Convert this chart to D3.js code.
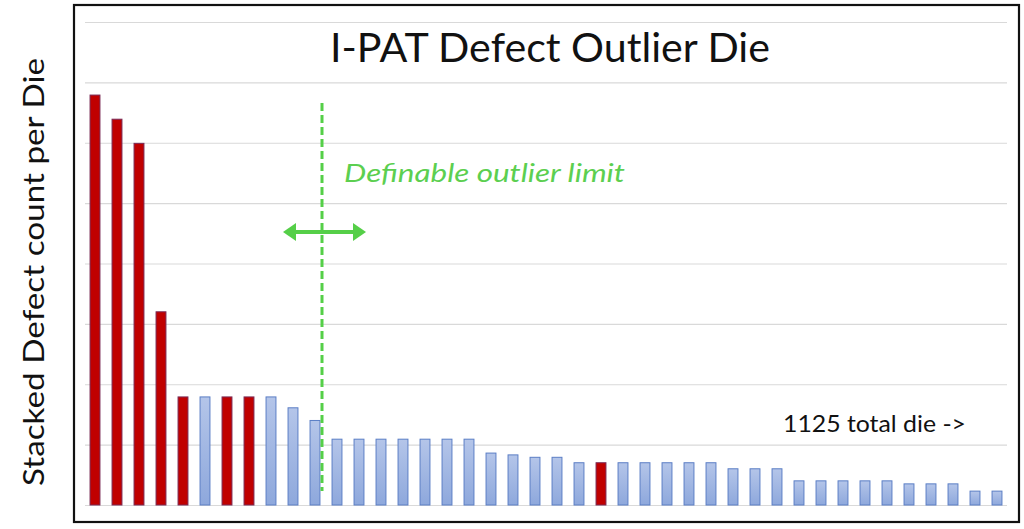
<!DOCTYPE html>
<html>
<head>
<meta charset="utf-8">
<script src="https://cdn.jsdelivr.net/npm/d3@7"></script>
<style>
  html, body { margin: 0; padding: 0; background: #fff; }
  svg { display: block; }
</style>
</head>
<body>
<svg id="chart" width="1024" height="529"></svg>
<script>
// ---- data ----
const dieIds = d3.range(1, 43).map(i => "D" + i);
const defectCounts = [
  67.9, 63.9, 59.9, 32.0, 17.9, 17.9, 17.9, 17.9, 17.9, 16.1,
  14.0, 10.9, 10.9, 10.9, 10.9, 10.9, 10.9, 10.9, 8.6, 8.3,
  7.9, 7.9, 7.0, 7.0, 7.0, 7.0, 7.0, 7.0, 7.0, 6.0,
  6.0, 6.0, 4.0, 4.0, 4.0, 4.0, 4.0, 3.5, 3.5, 3.5,
  2.3, 2.3
];
const outlierFlags = [
  1, 1, 1, 1, 1, 0, 1, 1, 0, 0,
  0, 0, 0, 0, 0, 0, 0, 0, 0, 0,
  0, 0, 0, 1, 0, 0, 0, 0, 0, 0,
  0, 0, 0, 0, 0, 0, 0, 0, 0, 0,
  0, 0
];
const yTicks = [0, 10, 20, 30, 40, 50, 60, 70, 80];
const titleText = "I-PAT Defect Outlier Die";
const yTitleText = "Stacked Defect count per Die";
const limitText = "Definable outlier limit";
const totalText = "1125 total die ->";

const rows = dieIds.map((id, i) => ({ id, value: defectCounts[i], outlier: outlierFlags[i] === 1 }));

// ---- layout ----
const svg = d3.select("#chart");
const x = d3.scaleBand().domain(dieIds).range([84, 1008]).paddingInner(0.55).paddingOuter(0.275);
const y = d3.scaleLinear().domain([0, 80]).range([505, 22]);

const defs = svg.append("defs");
const grad = defs.append("linearGradient").attr("id", "blueGrad")
  .attr("x1", 0).attr("y1", 0).attr("x2", 0).attr("y2", 1);
grad.append("stop").attr("offset", "0%").attr("stop-color", "#b4c5e9");
grad.append("stop").attr("offset", "100%").attr("stop-color", "#8ea8dc");

// frame
svg.append("rect").attr("x", 74).attr("y", 5).attr("width", 945).attr("height", 517)
  .attr("fill", "#fff").attr("stroke", "#111").attr("stroke-width", 2.2);

// gridlines
const yAxis = d3.axisLeft(y).tickValues(yTicks).tickSize(-(1007 - 85)).tickFormat("");
const gAxis = svg.append("g").attr("transform", "translate(85,0)").call(yAxis);
gAxis.select(".domain").remove();
gAxis.selectAll(".tick line").attr("stroke", "#d9d9d9").attr("stroke-width", 1.2);

// title
svg.append("text").attr("x", 550).attr("y", 62).attr("text-anchor", "middle")
  .attr("font-family", "Lato, 'Open Sans', sans-serif").attr("font-size", 40)
  .attr("fill", "#111").attr("textLength", 440).attr("lengthAdjust", "spacingAndGlyphs")
  .text(titleText);

// y title
svg.append("text").attr("transform", "translate(44,272) rotate(-90)").attr("text-anchor", "middle")
  .attr("font-family", "Lato, 'Open Sans', sans-serif").attr("font-size", 29)
  .attr("fill", "#111").attr("textLength", 428).attr("lengthAdjust", "spacingAndGlyphs")
  .text(yTitleText);

// bars
svg.append("g").selectAll("rect").data(rows).join("rect")
  .attr("x", d => x(d.id))
  .attr("y", d => y(d.value))
  .attr("width", x.bandwidth())
  .attr("height", d => y(0) - y(d.value))
  .attr("fill", d => d.outlier ? "#c00000" : "url(#blueGrad)")
  .attr("stroke", d => d.outlier ? "#7a2a55" : "#5b7ec5")
  .attr("stroke-width", 1);

// outlier limit dashed line
const green = "#55cf48";
const limitX = Math.round(x(dieIds[10]) + x.bandwidth() + 2.5);
svg.append("line").attr("x1", limitX).attr("x2", limitX).attr("y1", 103).attr("y2", 491)
  .attr("stroke", green).attr("stroke-width", 3).attr("stroke-dasharray", "8,4");

// double arrow
const ay = 232, ax1 = 283, ax2 = 366, head = 13, hh = 9;
svg.append("line").attr("x1", ax1 + head - 2).attr("x2", ax2 - head + 2).attr("y1", ay).attr("y2", ay)
  .attr("stroke", green).attr("stroke-width", 4);
svg.append("path").attr("d", `M${ax1},${ay} L${ax1 + head},${ay - hh} L${ax1 + head},${ay + hh} Z`).attr("fill", green);
svg.append("path").attr("d", `M${ax2},${ay} L${ax2 - head},${ay - hh} L${ax2 - head},${ay + hh} Z`).attr("fill", green);

// limit label
svg.append("text").attr("x", 344).attr("y", 182)
  .attr("font-family", "Lato, 'Open Sans', sans-serif").attr("font-size", 26).attr("font-style", "italic")
  .attr("fill", "#5ccf50").attr("textLength", 281).attr("lengthAdjust", "spacingAndGlyphs")
  .text(limitText);

// total die label
svg.append("text").attr("x", 783).attr("y", 432)
  .attr("font-family", "Lato, 'Open Sans', sans-serif").attr("font-size", 23)
  .attr("fill", "#111").attr("textLength", 183).attr("lengthAdjust", "spacingAndGlyphs")
  .text(totalText);
</script>
</body>
</html>
